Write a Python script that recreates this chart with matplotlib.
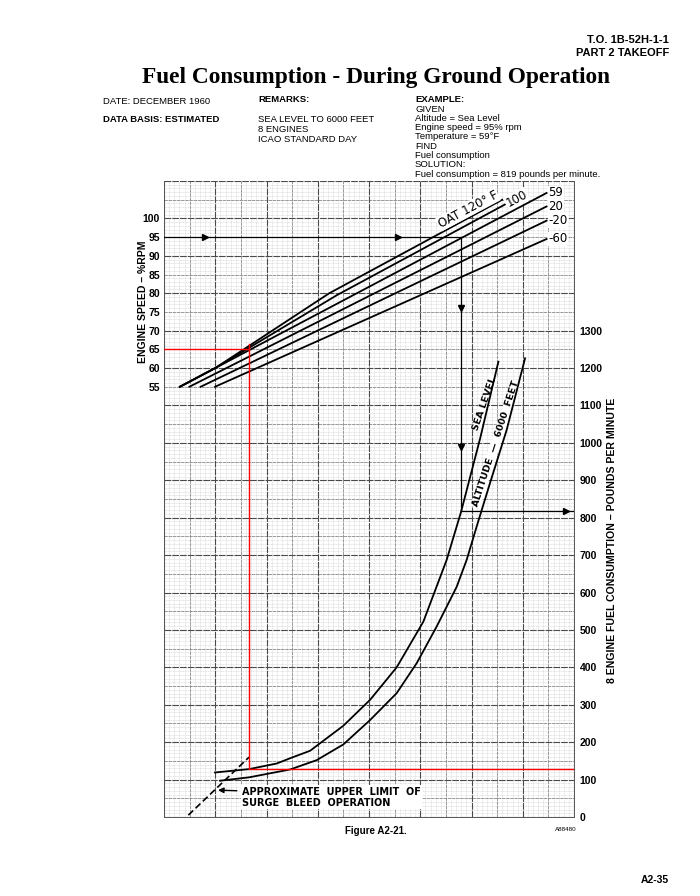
import numpy as np
import matplotlib
matplotlib.use("Agg")
import matplotlib.pyplot as plt

plt.rcParams['font.family'] = ['Liberation Sans', 'DejaVu Sans']

# left scale (engine speed) and right scale (fuel flow) share the grid: rpm -> 10*rpm + 600
rpm_ticks = [55, 60, 65, 70, 75, 80, 85, 90, 95, 100]
fuel_ticks = [0, 100, 200, 300, 400, 500, 600, 700, 800, 900, 1000, 1100, 1200, 1300]

# OAT lines, x in grid units, y in %rpm
oat_labels = ['OAT 120° F', '100', '59', '20', '-20', '-60']
oat_u = [[0.62, 2.0, 6.45, 13.2],
         [0.62, 2.0, 6.75, 13.3],
         [0.62, 14.93],
         [0.99, 14.93],
         [1.43, 14.93],
         [1.99, 14.93]]
oat_rpm = [[55, 60, 80, 105.0],
           [55, 60, 79.5, 103.7],
           [55, 106.8],
           [55, 103.2],
           [55, 99.4],
           [55, 94.5]]

# fuel curves, y in pounds per minute
sl_u = [1.99, 3.32, 4.40, 4.92, 5.70, 7.0, 8.04, 9.08, 10.12, 11.03, 11.59, 12.33, 13.05]
sl_fuel = [119, 128, 143, 157, 177, 244, 313, 400, 522, 687, 815, 1010, 1217]
alt_u = [2.19, 3.32, 4.92, 5.96, 7.0, 8.04, 9.08, 9.86, 10.64, 11.42, 11.81, 12.2, 12.72, 13.37, 14.09]
alt_fuel = [97, 106, 127, 152, 194, 259, 331, 411, 509, 615, 687, 776, 892, 1034, 1226]

# surge bleed limit (dashed)
surge_u = [0.95, 3.32]
surge_fuel = [5, 160]

# example: 95 % rpm, 59 F, sea level -> 819
ex_rpm = 95
ex_u = 11.59
ex_fuel = 819

# red reading lines
red_rpm = 65
red_u = 3.32
red_fuel = 127


def rpm2fuel(r):
    return 10 * np.asarray(r, dtype=float) + 600


def fuel2rpm(f):
    return (np.asarray(f, dtype=float) - 600) / 10


fig = plt.figure(figsize=(7, 8.96), dpi=100)
ax = fig.add_axes([164 / 700, 1 - 817 / 896, 410 / 700, 636 / 896])
ax.set_xlim(0, 16)
ax.set_ylim(0, 1700)

# graph paper
ax.vlines(np.arange(0, 16.01, 0.2), 0, 1700, color='#d2d2d2', lw=0.4, ls=(0, (2, 1)), zorder=0)
ax.hlines(np.arange(0, 1701, 10), 0, 16, color='#d2d2d2', lw=0.4, ls=(0, (2, 1)), zorder=0)
ax.vlines(np.arange(1, 16, 2), 0, 1700, color='#8c8c8c', lw=0.6, ls=(0, (4, 1)), zorder=0)
ax.hlines(np.arange(50, 1701, 100), 0, 16, color='#8c8c8c', lw=0.6, ls=(0, (4, 1)), zorder=0)
ax.vlines(np.arange(0, 16.01, 2), 0, 1700, color='#4a4a4a', lw=0.8, ls=(0, (6, 1)), zorder=0)
ax.hlines(np.arange(0, 1701, 100), 0, 16, color='#4a4a4a', lw=0.8, ls=(0, (6, 1)), zorder=0)
ax.tick_params(which='both', length=0, labelleft=False, labelbottom=False)
for s in ax.spines.values():
    s.set_color('#555555')
    s.set_linewidth(0.7)
ax.spines['top'].set_visible(False)

# OAT lines
for u, r in zip(oat_u, oat_rpm):
    ax.plot(u, rpm2fuel(r), color='black', lw=1.3, zorder=3)

lbl_box = dict(facecolor='white', edgecolor='none', pad=0.5)
ax.text(11.86, 1624, oat_labels[0], rotation=28, ha='center', va='center', fontsize=8.5,
        family='DejaVu Sans', bbox=lbl_box, zorder=4)
ax.text(13.76, 1652, oat_labels[1], rotation=28, ha='center', va='center', fontsize=8.5,
        family='DejaVu Sans', bbox=lbl_box, zorder=4)
for lab, r in zip(oat_labels[2:], [106.8, 103.2, 99.4, 94.5]):
    ax.text(15.0, rpm2fuel(r), lab, ha='left', va='center', fontsize=8.5,
            family='DejaVu Sans', bbox=lbl_box, zorder=4)

# fuel curves
ax.plot(sl_u, sl_fuel, color='black', lw=1.3, zorder=3, solid_joinstyle='round')
ax.plot(alt_u, alt_fuel, color='black', lw=1.3, zorder=3, solid_joinstyle='round')
curve_box = dict(facecolor='white', edgecolor='none', pad=0.3)
ax.text(12.5, 1106, 'SEA LEVEL', rotation=71, ha='center', va='center', fontsize=6.8,
        family='DejaVu Sans', weight='bold', bbox=curve_box, zorder=2.5)
ax.text(12.94, 997, 'ALTITUDE  —  6000  FEET', rotation=72, ha='center', va='center', fontsize=6.8,
        family='DejaVu Sans', weight='bold', bbox=curve_box, zorder=2.5)

# surge bleed limit
ax.plot(surge_u, surge_fuel, color='black', lw=1.2, ls=(0, (4, 2)), zorder=3)
ax.annotate('', xy=(2.0, 72), xytext=(2.95, 70),
            arrowprops=dict(arrowstyle='-|>', color='black', lw=1.0, mutation_scale=8), zorder=4)
ax.text(3.05, 53, 'APPROXIMATE  UPPER  LIMIT  OF\nSURGE  BLEED  OPERATION', ha='left', va='center',
        fontsize=7, family='DejaVu Sans', weight='bold', linespacing=1.1,
        bbox=dict(facecolor='white', edgecolor='none', pad=1), zorder=4)

# example path
ex_f = rpm2fuel(ex_rpm)
ax.plot([0, ex_u], [ex_f, ex_f], color='black', lw=0.9, zorder=3)
ax.plot([ex_u, ex_u], [ex_f, ex_fuel], color='black', lw=0.9, zorder=3)
ax.plot([ex_u, 16], [ex_fuel, ex_fuel], color='black', lw=0.9, zorder=3)
ax.plot([1.6, 9.13], [ex_f, ex_f], ls='none', marker='>', ms=5, color='black', zorder=4)
ax.plot([ex_u, ex_u], [1360, 989], ls='none', marker='v', ms=5, color='black', zorder=4)
ax.plot([15.7], [ex_fuel], ls='none', marker='>', ms=5, color='black', zorder=4)

# red reading lines
ax.plot([0, red_u], [rpm2fuel(red_rpm)] * 2, color='red', lw=1.0, zorder=5)
ax.plot([red_u, red_u], [rpm2fuel(66.4), red_fuel], color='red', lw=1.0, zorder=5)
ax.plot([red_u, 16], [red_fuel, red_fuel], color='red', lw=1.0, zorder=5)

# scales
left = ax.secondary_yaxis('left', functions=(fuel2rpm, rpm2fuel))
left.set_yticks(rpm_ticks)
left.tick_params(length=0, pad=3, labelsize=7.5)
for t in left.get_yticklabels():
    t.set_fontweight('bold')
left.spines['left'].set_visible(False)

right = ax.twinx()
right.set_ylim(0, 1700)
right.set_yticks(fuel_ticks)
right.tick_params(length=0, pad=4, labelsize=7.5)
for t in right.get_yticklabels():
    t.set_fontweight('bold')
for s in right.spines.values():
    s.set_visible(False)

fig.text(143 / 700, 1 - 302 / 896, 'ENGINE SPEED – %RPM', rotation=90, ha='center', va='center',
         fontsize=7.5, weight='bold')
fig.text(612 / 700, 1 - 540 / 896, '8 ENGINE FUEL CONSUMPTION – POUNDS PER MINUTE', rotation=90,
         ha='center', va='center', fontsize=7.6, weight='bold')

# header text
fig.text(669 / 700, 1 - 40 / 896, 'T.O. 1B-52H-1-1', ha='right', va='center', fontsize=8, weight='bold')
fig.text(669 / 700, 1 - 53 / 896, 'PART 2 TAKEOFF', ha='right', va='center', fontsize=8, weight='bold')
fig.text(376 / 700, 1 - 77 / 896, 'Fuel Consumption - During Ground Operation', ha='center', va='center',
         fontsize=16.8, weight='bold', family='Liberation Serif')
fig.text(103 / 700, 1 - 101 / 896, 'DATE: DECEMBER 1960', ha='left', va='center', fontsize=6.8)
fig.text(103 / 700, 1 - 120 / 896, 'DATA BASIS: ESTIMATED', ha='left', va='center', fontsize=6.8, weight='bold')
fig.text(258 / 700, 1 - 99 / 896, 'REMARKS:', ha='left', va='center', fontsize=6.8, weight='bold')
for i, line in enumerate(['SEA LEVEL TO 6000 FEET', '8 ENGINES', 'ICAO STANDARD DAY']):
    fig.text(258 / 700, 1 - (119 + 10.5 * i) / 896, line, ha='left', va='center', fontsize=6.8)
fig.text(415 / 700, 1 - 99 / 896, 'EXAMPLE:', ha='left', va='center', fontsize=6.8, weight='bold')
ex_lines = ['GIVEN', 'Altitude = Sea Level', 'Engine speed = 95% rpm', 'Temperature = 59°F', 'FIND',
            'Fuel consumption', 'SOLUTION:', 'Fuel consumption = 819 pounds per minute.']
for i, line in enumerate(ex_lines):
    fig.text(415 / 700, 1 - (109 + 9.3 * i) / 896, line, ha='left', va='center', fontsize=6.8)

fig.text(376 / 700, 1 - 831 / 896, 'Figure A2-21.', ha='center', va='center', fontsize=7, weight='bold')
fig.text(566 / 700, 1 - 829 / 896, 'A88480', ha='center', va='center', fontsize=4.5)
fig.text(669 / 700, 1 - 880 / 896, 'A2-35', ha='right', va='center', fontsize=7.5, weight='bold')

fig.savefig('out.png', dpi=100, facecolor='white')
